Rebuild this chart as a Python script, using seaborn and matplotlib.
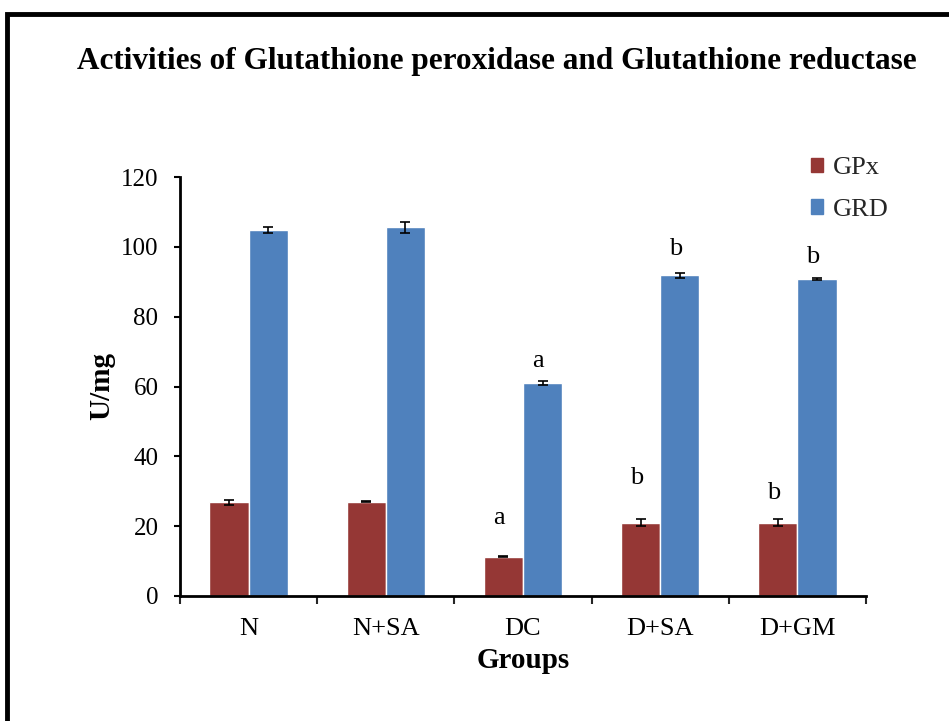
import matplotlib
matplotlib.use("Agg")
import matplotlib.pyplot as plt
import matplotlib.patches as mpatches
import seaborn as sns
import pandas as pd
import numpy as np

groups = ["N", "N+SA", "DC", "D+SA", "D+GM"]
gpx = [26.8, 27.0, 11.3, 21.0, 21.0]
gpx_err = [0.8, 0.2, 0.2, 1.0, 1.0]
grd = [104.8, 105.6, 61.0, 91.8, 90.9]
grd_err = [0.9, 1.5, 0.6, 0.8, 0.3]
gpx_sig = ["", "", "a", "b", "b"]
grd_sig = ["", "", "a", "b", "b"]
gpx_sig_y = [0, 0, 22.3, 33.8, 29.5]
grd_sig_y = [0, 0, 67.3, 99.4, 97.1]
series = ["GPx", "GRD"]
colors = ["#953735", "#4F81BD"]

df = pd.DataFrame({
    "Group": groups * 2,
    "Series": [series[0]] * 5 + [series[1]] * 5,
    "Value": gpx + grd,
})

sns.set_theme(style="white")
plt.rcParams["font.family"] = ["Liberation Serif", "DejaVu Serif"]

fig = plt.figure(figsize=(9.49, 7.21), dpi=100)
ax = fig.add_axes([180/949, 1-596/721, (866-180)/949, (596-177)/721])

sns.barplot(data=df, x="Group", y="Value", hue="Series", palette=colors,
            width=0.57, ax=ax, errorbar=None, saturation=1, legend=False)

errs = [gpx_err, grd_err]
vals = [gpx, grd]
sigs = [gpx_sig, grd_sig]
sig_ys = [gpx_sig_y, grd_sig_y]
bar_containers = list(ax.containers)[:2]
for si, cont in enumerate(bar_containers):
    for bi, bar in enumerate(list(cont.patches)):
        cx = bar.get_x() + bar.get_width() / 2
        ax.errorbar(cx, vals[si][bi], yerr=errs[si][bi], fmt="none",
                    ecolor="black", elinewidth=1.2, capsize=3.5, capthick=1.2)
        if sigs[si][bi]:
            ax.text(cx - 0.03, sig_ys[si][bi], sigs[si][bi], ha="center", va="center",
                    fontsize=19, color="black")

ax.set_ylim(0, 120)
ax.set_xlim(-0.5, 4.5)
ax.set_yticks(range(0, 121, 20))
ax.tick_params(axis="y", labelsize=18, direction="out", length=4.5, width=1.5,
               left=True, colors="black", pad=11)
ax.set_xticks(range(5))
ax.set_xticklabels(groups)
ax.tick_params(axis="x", which="major", length=0, labelsize=19, pad=16)
ax.set_xticks(np.arange(-0.5, 5, 1), minor=True)
ax.tick_params(axis="x", which="minor", length=6, width=1.5, bottom=True, direction="out")
for t in ax.get_xticklabels() + ax.get_yticklabels():
    t.set_color("black")

for s in ["top", "right"]:
    ax.spines[s].set_visible(False)
for s in ["left", "bottom"]:
    ax.spines[s].set_color("black")
    ax.spines[s].set_linewidth(2)

ax.set_ylabel("U/mg", fontsize=21, fontweight="bold", labelpad=4, color="black")
ax.set_xlabel("Groups", fontsize=21, fontweight="bold", labelpad=5, color="black")

handles = [mpatches.Patch(color=c, label=l) for c, l in zip(colors, series)]
leg = ax.legend(handles=handles, loc="upper left", bbox_to_anchor=(0.885, 1.104),
                frameon=False, fontsize=19, handlelength=0.45, handleheight=0.45,
                handletextpad=0.4, labelspacing=0.75)

fig.text(497/949, 1-61/721, "Activities of Glutathione peroxidase and Glutathione reductase",
         ha="center", va="center", fontsize=22.5, fontweight="bold", color="black")

border = mpatches.Rectangle((7/949, -0.2), 1.2, 1 - 14/721 + 0.2, transform=fig.transFigure,
                            fill=False, edgecolor="black", linewidth=3.5, clip_on=False)
fig.patches.append(border)

fig.savefig("out.png", dpi=100)
